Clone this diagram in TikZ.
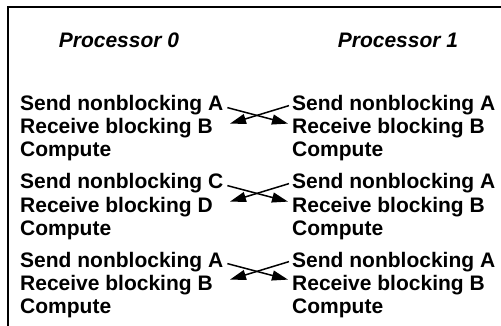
\documentclass[tikz,border=0pt]{standalone}
\usepackage{fontspec}
\setmainfont{Liberation Sans}
\usetikzlibrary{positioning, arrows.meta}
\tikzstyle{frame} = [draw, line width=2pt]
\tikzstyle{head} = [font=\fontsize{21}{25}\selectfont\bfseries\itshape, anchor=base]
\tikzstyle{op} = [font=\fontsize{21}{25}\selectfont\bfseries, anchor=base west, inner sep=2pt]
\tikzstyle{msg} = [draw, line width=1.5pt, -{Triangle[length=16pt, width=10pt]}]
\begin{document}
\begin{tikzpicture}[x=1pt, y=-1pt]
        \useasboundingbox (0,0) rectangle (501,326);
        % Frame
        \draw [frame] (501,7) -- (8,7) -- (8,326);

        % Headings
        \node (proc0) [head] at (119,48) {Processor 0};
        \node (proc1) [head] at (398,48) {Processor 1};

        % Processor 0
        \node (snd0a) [op] at (18,111) {Send nonblocking A};
        \node (rcv0a) [op, below=23pt of snd0a.base west, anchor=base west] {Receive blocking B};
        \node (cmp0a) [op, below=23pt of rcv0a.base west, anchor=base west] {Compute};
        \node (snd0b) [op, below=32pt of cmp0a.base west, anchor=base west] {Send nonblocking C};
        \node (rcv0b) [op, below=23pt of snd0b.base west, anchor=base west] {Receive blocking D};
        \node (cmp0b) [op, below=23pt of rcv0b.base west, anchor=base west] {Compute};
        \node (snd0c) [op, below=32pt of cmp0b.base west, anchor=base west] {Send nonblocking A};
        \node (rcv0c) [op, below=23pt of snd0c.base west, anchor=base west] {Receive blocking B};
        \node (cmp0c) [op, below=23pt of rcv0c.base west, anchor=base west] {Compute};

        % Processor 1
        \node (snd1a) [op] at (290,111) {Send nonblocking A};
        \node (rcv1a) [op, below=23pt of snd1a.base west, anchor=base west] {Receive blocking B};
        \node (cmp1a) [op, below=23pt of rcv1a.base west, anchor=base west] {Compute};
        \node (snd1b) [op, below=32pt of cmp1a.base west, anchor=base west] {Send nonblocking A};
        \node (rcv1b) [op, below=23pt of snd1b.base west, anchor=base west] {Receive blocking B};
        \node (cmp1b) [op, below=23pt of rcv1b.base west, anchor=base west] {Compute};
        \node (snd1c) [op, below=32pt of cmp1b.base west, anchor=base west] {Send nonblocking A};
        \node (rcv1c) [op, below=23pt of snd1c.base west, anchor=base west] {Receive blocking B};
        \node (cmp1c) [op, below=23pt of rcv1c.base west, anchor=base west] {Compute};

        % Messages
        \path [msg] ([xshift=2pt, yshift=-2pt]snd0a.east) -- ([xshift=-2pt, yshift=5pt]rcv1a.west);
        \path [msg] ([xshift=-1pt]snd1a.west) -- ([xshift=15pt, yshift=5pt]rcv0a.east);
        \path [msg] ([xshift=2pt, yshift=-2pt]snd0b.east) -- ([xshift=-2pt, yshift=5pt]rcv1b.west);
        \path [msg] ([xshift=-1pt]snd1b.west) -- ([xshift=15pt, yshift=5pt]rcv0b.east);
        \path [msg] ([xshift=2pt, yshift=-2pt]snd0c.east) -- ([xshift=-2pt, yshift=5pt]rcv1c.west);
        \path [msg] ([xshift=-1pt]snd1c.west) -- ([xshift=15pt, yshift=5pt]rcv0c.east);

    \end{tikzpicture}
\end{document}
